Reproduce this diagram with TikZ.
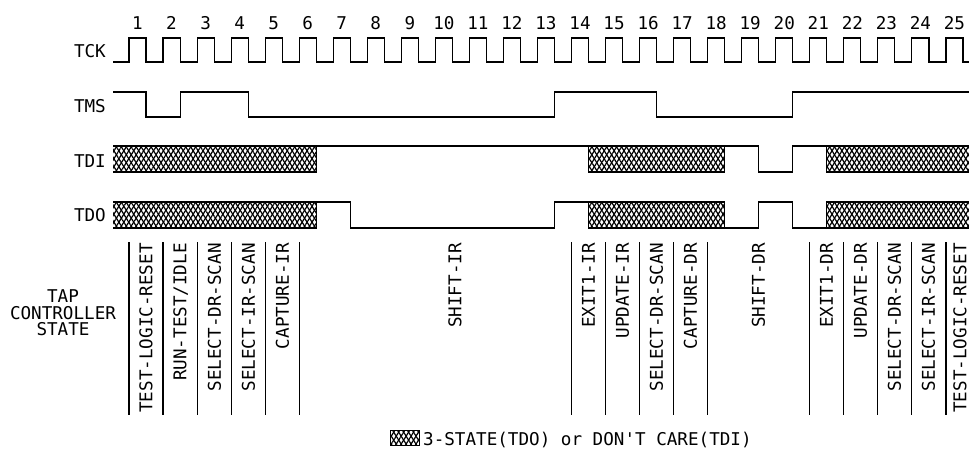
\documentclass[tikz,border=0pt]{standalone}
\usepackage{fontspec}
\setmonofont{DejaVu Sans Mono}
\usetikzlibrary{patterns.meta}
\begin{document}
\begin{tikzpicture}[x=1pt,y=-1pt,
  sig/.style={line width=1.1pt, line join=miter},
  tfont/.style={font=\ttfamily\fontsize{17.6}{16.5}\selectfont},
  lbl/.style={tfont, inner sep=0pt, text height=12.8pt, text depth=0pt},
  stlbl/.style={lbl, rotate=90, anchor=east},
  hatch/.style={pattern={Lines[angle=58,distance=4.2pt,line width=1.2pt]},
                postaction={pattern={Lines[angle=-58,distance=4.2pt,line width=1.2pt]}}},
  stline/.style={line width=1.1pt}
]
\useasboundingbox (0,0) rectangle (969,452);

% signal names
\node[lbl, anchor=east] (tck) at (106,51) {TCK};
\node[lbl, anchor=east] (tms) at (106,106.5) {TMS};
\node[lbl, anchor=east] (tdi) at (106,161.5) {TDI};
\node[lbl, anchor=east] (tdo) at (106,215) {TDO};

% cycle numbers
\foreach \k in {1,...,25}
  \node[lbl] (n\k) at ({137.5+(\k-1)*34.04},23) {\k};

% TCK
\draw[sig] (113,62) \foreach \k in {1,...,25}{ -- ({129+(\k-1)*34.04},62) -- ++(0,-24) -- ++(17.02,0) -- ++(0,24) } -- (969,62);

% TMS
\draw[sig] (113,92) -- (146.02,92) -- (146.02,117) -- (180.06,117) -- (180.06,92)
  -- (248.14,92) -- (248.14,117) -- (554.5,117) -- (554.5,92) -- (656.62,92)
  -- (656.62,117) -- (792.78,117) -- (792.78,92) -- (969,92);

% TDI
\fill[hatch] (113,146) rectangle (316.22,172);
\draw[sig] (113,172) -- (316.22,172) -- (316.22,146);
\draw[sig] (113,146) -- (588.54,146);
\draw[sig, hatch] (588.54,146) rectangle (724.7,172);
\draw[sig] (724.7,146) -- (758.74,146) -- (758.74,172) -- (792.78,172) -- (792.78,146) -- (826.82,146);
\fill[hatch] (826.82,146) rectangle (969,172);
\draw[sig] (969,146) -- (826.82,146) -- (826.82,172) -- (969,172);

% TDO
\fill[hatch] (113,202) rectangle (316.22,228);
\draw[sig] (113,228) -- (316.22,228) -- (316.22,202);
\draw[sig] (113,202) -- (350.26,202) -- (350.26,228) -- (554.5,228) -- (554.5,202) -- (588.54,202);
\draw[sig, hatch] (588.54,202) rectangle (724.7,228);
\draw[sig] (724.7,228) -- (758.74,228) -- (758.74,202) -- (792.78,202) -- (792.78,228) -- (826.82,228);
\fill[hatch] (826.82,202) rectangle (969,228);
\draw[sig] (969,202) -- (826.82,202) -- (826.82,228) -- (969,228);

% state separators
\foreach \k in {1,2,3,4,5,6,14,15,16,17,18,21,22,23,24,25}
  \draw[stline] ({129+(\k-1)*34.04},242) -- ({129+(\k-1)*34.04},415);

% state labels
\node[tfont, align=center, inner sep=0pt] (tap) at (63,313) {TAP\\CONTROLLER\\STATE};
\node[stlbl] (s1) at (146,243) {TEST-LOGIC-RESET};
\node[stlbl] (s2) at (180,243) {RUN-TEST/IDLE};
\node[stlbl] (s3) at (214.5,243) {SELECT-DR-SCAN};
\node[stlbl] (s4) at (248.5,243) {SELECT-IR-SCAN};
\node[stlbl] (s5) at (282.5,243) {CAPTURE-IR};
\node[stlbl] (s6) at (455,243) {SHIFT-IR};
\node[stlbl] (s7) at (588.5,243) {EXIT1-IR};
\node[stlbl] (s8) at (622.5,243) {UPDATE-IR};
\node[stlbl] (s9) at (656.5,243) {SELECT-DR-SCAN};
\node[stlbl] (s10) at (690.5,243) {CAPTURE-DR};
\node[stlbl] (s11) at (758.5,243) {SHIFT-DR};
\node[stlbl] (s12) at (826.5,243) {EXIT1-DR};
\node[stlbl] (s13) at (860.5,243) {UPDATE-DR};
\node[stlbl] (s14) at (894.5,243) {SELECT-DR-SCAN};
\node[stlbl] (s15) at (928.5,243) {SELECT-IR-SCAN};
\node[stlbl] (s16) at (960,243) {TEST-LOGIC-RESET};

% legend
\draw[line width=1pt, hatch] (390,430) rectangle (419,445);
\node[tfont, inner sep=0pt, anchor=base west] (leg) at (423,445) {3-STATE(TDO) or DON'T CARE(TDI)};
\end{tikzpicture}
\end{document}
